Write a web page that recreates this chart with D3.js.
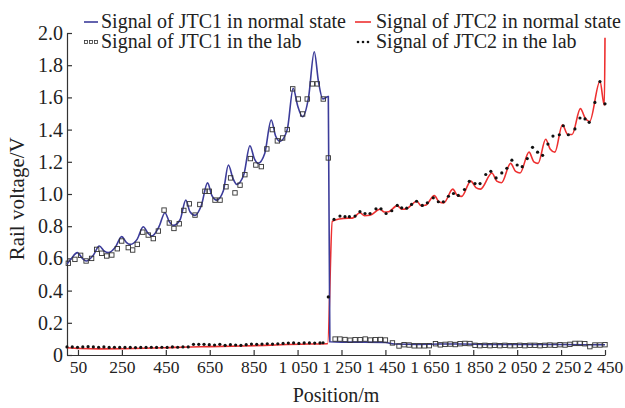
<!DOCTYPE html>
<html lang="en">
<head>
<meta charset="UTF-8">
<title>Rail voltage</title>
<style>
    body { margin: 0; background: #fff; }
</style>
</head>
<body>
<svg id="chart"></svg>
<script src="https://d3js.org/d3.v7.min.js"></script>
<script>
    // axis ticks
    var xTicks = [50, 250, 450, 650, 850, 1050, 1250, 1450, 1650, 1850, 2050, 2250, 2450];
    var yTicks = [0, 0.2, 0.4, 0.6, 0.8, 1.0, 1.2, 1.4, 1.6, 1.8, 2.0];

    // JTC1 in normal state (blue line)
    var jtc1Pos = [0, 20, 47, 70, 87, 120, 147, 170, 188, 220, 249, 270, 287, 320, 347, 370, 386, 420, 446, 465, 484,
        515, 541, 560, 583, 612, 640, 660, 682, 712, 735, 755, 773, 805, 833, 853, 870, 900, 930, 950, 970, 1003,
        1030, 1050, 1073, 1100, 1126, 1145, 1165, 1190, 1197, 1250, 1350, 1450, 1490, 1600, 1700, 1800, 1900, 2050,
        2200, 2350, 2450];
    var jtc1Val = [0.565, 0.60, 0.636, 0.60, 0.584, 0.62, 0.677, 0.645, 0.636, 0.67, 0.735, 0.70, 0.687, 0.72, 0.797,
        0.755, 0.739, 0.80, 0.884, 0.83, 0.805, 0.84, 0.962, 0.89, 0.867, 0.93, 1.069, 0.99, 0.962, 1.02, 1.18, 1.10,
        1.06, 1.12, 1.30, 1.22, 1.19, 1.25, 1.46, 1.36, 1.327, 1.40, 1.657, 1.55, 1.48, 1.60, 1.884, 1.70, 1.59, 1.606,
        0.082, 0.08, 0.08, 0.078, 0.068, 0.066, 0.068, 0.068, 0.066, 0.065, 0.065, 0.064, 0.064];

    // JTC2 in normal state (red line)
    var jtc2Pos = [0, 60, 150, 300, 450, 550, 650, 800, 900, 1000, 1100, 1187, 1208, 1240, 1280, 1300, 1334, 1355,
        1380, 1425, 1445, 1465, 1504, 1525, 1550, 1593, 1612, 1632, 1673, 1695, 1716, 1757, 1778, 1797, 1839, 1862,
        1883, 1935, 1957, 1979, 2020, 2043, 2063, 2104, 2126, 2145, 2180, 2200, 2222, 2256, 2280, 2300, 2338, 2360,
        2380, 2427, 2447, 2450];
    var jtc2Val = [0.045, 0.04, 0.038, 0.04, 0.045, 0.05, 0.052, 0.056, 0.06, 0.065, 0.068, 0.07, 0.83, 0.845, 0.85,
        0.85, 0.884, 0.865, 0.868, 0.905, 0.888, 0.89, 0.928, 0.905, 0.912, 0.955, 0.928, 0.93, 0.99, 0.95, 0.945,
        1.03, 0.99, 0.985, 1.08, 1.04, 1.03, 1.13, 1.08, 1.07, 1.19, 1.14, 1.13, 1.26, 1.20, 1.19, 1.34, 1.28, 1.26,
        1.43, 1.37, 1.37, 1.53, 1.47, 1.45, 1.70, 1.55, 1.97];

    // JTC1 in the lab (squares)
    var lab1Pos = [6, 36, 62, 87, 112, 135, 158, 181, 204, 229, 249, 279, 299, 320, 345, 370, 393, 416, 442, 466, 487,
        511, 532, 557, 583, 605, 628, 648, 674, 697, 724, 745, 765, 788, 810, 835, 860, 885, 910, 935, 958, 982, 1003,
        1028, 1053, 1073, 1094, 1117, 1140, 1167, 1190, 1221, 1243, 1266, 1289, 1312, 1335, 1358, 1381, 1404, 1427,
        1450, 1482, 1512, 1535, 1558, 1581, 1604, 1627, 1650, 1678, 1700, 1722, 1745, 1768, 1790, 1812, 1835, 1858,
        1880, 1903, 1926, 1948, 1971, 1994, 2017, 2040, 2062, 2085, 2108, 2131, 2154, 2176, 2199, 2222, 2245, 2268,
        2290, 2313, 2336, 2358, 2381, 2404, 2427, 2450];
    var lab1Val = [0.57, 0.594, 0.619, 0.584, 0.60, 0.656, 0.632, 0.615, 0.621, 0.66, 0.708, 0.667, 0.652, 0.687,
        0.763, 0.745, 0.723, 0.77, 0.90, 0.82, 0.786, 0.815, 0.898, 0.939, 0.869, 0.935, 1.017, 1.017, 0.962, 0.962,
        1.045, 1.10, 1.007, 1.055, 1.12, 1.22, 1.18, 1.17, 1.28, 1.40, 1.33, 1.348, 1.40, 1.653, 1.59, 1.497, 1.59,
        1.684, 1.684, 1.59, 1.224, 0.099, 0.099, 0.096, 0.092, 0.095, 0.095, 0.099, 0.093, 0.095, 0.096, 0.093, 0.075,
        0.056, 0.064, 0.062, 0.057, 0.057, 0.057, 0.058, 0.07, 0.063, 0.066, 0.068, 0.065, 0.07, 0.072, 0.071, 0.06,
        0.058, 0.06, 0.058, 0.06, 0.058, 0.06, 0.058, 0.058, 0.06, 0.058, 0.06, 0.06, 0.058, 0.06, 0.062, 0.06, 0.064,
        0.062, 0.066, 0.072, 0.072, 0.07, 0.052, 0.062, 0.062, 0.064];

    // JTC2 in the lab (dots)
    var lab2Pos = [0, 24, 48, 72, 96, 120, 144, 168, 192, 216, 240, 264, 288, 312, 336, 360, 384, 408, 432, 456, 480,
        504, 528, 552, 576, 600, 624, 648, 672, 696, 720, 744, 768, 792, 816, 840, 864, 888, 912, 936, 960, 984, 1008,
        1032, 1056, 1080, 1104, 1128, 1152, 1166, 1190, 1216, 1243, 1266, 1286, 1312, 1334, 1357, 1380, 1407, 1430,
        1453, 1479, 1504, 1524, 1547, 1569, 1592, 1618, 1641, 1668, 1691, 1714, 1737, 1760, 1782, 1810, 1832, 1858,
        1881, 1907, 1930, 1954, 1980, 2003, 2026, 2050, 2073, 2096, 2120, 2143, 2166, 2190, 2213, 2242, 2260, 2283,
        2313, 2336, 2359, 2378, 2404, 2427, 2450];
    var lab2Val = [0.05, 0.05, 0.048, 0.05, 0.052, 0.05, 0.048, 0.05, 0.047, 0.048, 0.047, 0.047, 0.047, 0.046,
        0.047, 0.047, 0.048, 0.047, 0.048, 0.047, 0.05, 0.048, 0.05, 0.05, 0.066, 0.066, 0.066, 0.064, 0.062, 0.066,
        0.06, 0.064, 0.062, 0.06, 0.064, 0.068, 0.066, 0.068, 0.07, 0.068, 0.07, 0.072, 0.074, 0.075, 0.072, 0.075,
        0.075, 0.074, 0.075, 0.076, 0.361, 0.842, 0.863, 0.859, 0.859, 0.863, 0.89, 0.879, 0.879, 0.908, 0.908, 0.879,
        0.896, 0.929, 0.914, 0.912, 0.935, 0.955, 0.929, 0.945, 0.976, 0.952, 0.952, 0.986, 1.003, 0.991, 1.028,
        1.079, 1.065, 1.065, 1.121, 1.141, 1.10, 1.131, 1.16, 1.21, 1.18, 1.17, 1.22, 1.29, 1.26, 1.24, 1.31, 1.36,
        1.368, 1.424, 1.368, 1.404, 1.472, 1.466, 1.445, 1.569, 1.698, 1.56];

    var width = 625;
    var height = 408;
    var blue = "#3c3c9a";
    var red = "#ee3030";
    var serif = "'Liberation Serif', 'Times New Roman', serif";

    var svg = d3.select("#chart")
        .attr("width", width)
        .attr("height", height)
        .attr("font-family", serif);

    var x = d3.scaleLinear().domain([0, 2450]).range([67, 605]);
    var y = d3.scaleLinear().domain([0, 2.0]).range([355, 33]);

    function xFormat(d) {
        if (d < 1000) return String(d);
        var rest = String(d % 1000);
        while (rest.length < 3) rest = "0" + rest;
        return Math.floor(d / 1000) + " " + rest;
    }

    var xAxis = svg.append("g")
        .attr("transform", "translate(0," + y(0) + ")")
        .call(d3.axisBottom(x).tickValues(xTicks).tickSizeInner(-5).tickSizeOuter(0).tickPadding(6).tickFormat(xFormat));
    var yAxis = svg.append("g")
        .attr("transform", "translate(" + x(0) + ",0)")
        .call(d3.axisLeft(y).tickValues(yTicks).tickSizeInner(-5).tickSizeOuter(0).tickPadding(4)
            .tickFormat(function (d) { return d === 0 ? "0" : d.toFixed(1); }));

    xAxis.attr("font-size", 17.5);
    yAxis.attr("font-size", 20);
    [xAxis, yAxis].forEach(function (g) {
        g.attr("font-family", serif);
        g.selectAll("path, line").attr("stroke", "#333").attr("stroke-width", 1.2);
        g.selectAll("text").attr("fill", "#222");
    });
    // keep the last label inside the picture
    xAxis.selectAll(".tick text").filter(function (d) { return d === 2450; }).attr("dx", -2);

    svg.append("text")
        .attr("transform", "translate(24," + y(0.97) + ") rotate(-90)")
        .attr("text-anchor", "middle")
        .attr("font-size", 21)
        .attr("fill", "#222")
        .text("Rail voltage/V");
    svg.append("text")
        .attr("x", x(1225))
        .attr("y", 402)
        .attr("text-anchor", "middle")
        .attr("font-size", 20)
        .attr("fill", "#222")
        .text("Position/m");

    function toPoints(pos, val) {
        return pos.map(function (p, i) { return [p, val[i]]; });
    }

    var line = d3.line()
        .x(function (d) { return x(d[0]); })
        .y(function (d) { return y(d[1]); })
        .curve(d3.curveMonotoneX);

    svg.append("path")
        .datum(toPoints(jtc2Pos, jtc2Val))
        .attr("fill", "none")
        .attr("stroke", red)
        .attr("stroke-width", 1.6)
        .attr("d", line);

    svg.append("path")
        .datum(toPoints(jtc1Pos, jtc1Val))
        .attr("fill", "none")
        .attr("stroke", blue)
        .attr("stroke-width", 1.6)
        .attr("d", line);

    svg.append("g").selectAll("rect")
        .data(toPoints(lab1Pos, lab1Val))
        .enter().append("rect")
        .attr("x", function (d) { return x(d[0]) - 2.2; })
        .attr("y", function (d) { return y(d[1]) - 2.2; })
        .attr("width", 4.4)
        .attr("height", 4.4)
        .attr("fill", "none")
        .attr("stroke", "#333")
        .attr("stroke-width", 0.9);

    svg.append("g").selectAll("circle")
        .data(toPoints(lab2Pos, lab2Val))
        .enter().append("circle")
        .attr("cx", function (d) { return x(d[0]); })
        .attr("cy", function (d) { return y(d[1]); })
        .attr("r", 1.6)
        .attr("fill", "#111");

    // legend
    var legend = svg.append("g").attr("font-size", 20).attr("fill", "#222");
    legend.append("line").attr("x1", 84).attr("x2", 98).attr("y1", 22).attr("y2", 22)
        .attr("stroke", blue).attr("stroke-width", 1.6);
    legend.append("text").attr("x", 101).attr("y", 28).text("Signal of JTC1 in normal state");
    legend.append("line").attr("x1", 355).attr("x2", 371).attr("y1", 22).attr("y2", 22)
        .attr("stroke", red).attr("stroke-width", 1.6);
    legend.append("text").attr("x", 376).attr("y", 28).text("Signal of JTC2 in normal state");

    legend.selectAll("rect.key")
        .data([86, 91, 96])
        .enter().append("rect")
        .attr("x", function (d) { return d - 1.5; })
        .attr("y", 40.5)
        .attr("width", 3)
        .attr("height", 3)
        .attr("fill", "none")
        .attr("stroke", "#333")
        .attr("stroke-width", 0.8);
    legend.append("text").attr("x", 101).attr("y", 48).text("Signal of JTC1 in the lab");
    legend.selectAll("circle.key")
        .data([358, 363, 368])
        .enter().append("circle")
        .attr("cx", function (d) { return d; })
        .attr("cy", 42)
        .attr("r", 1.3)
        .attr("fill", "#111");
    legend.append("text").attr("x", 376).attr("y", 48).text("Signal of JTC2 in the lab");
</script>
</body>
</html>
